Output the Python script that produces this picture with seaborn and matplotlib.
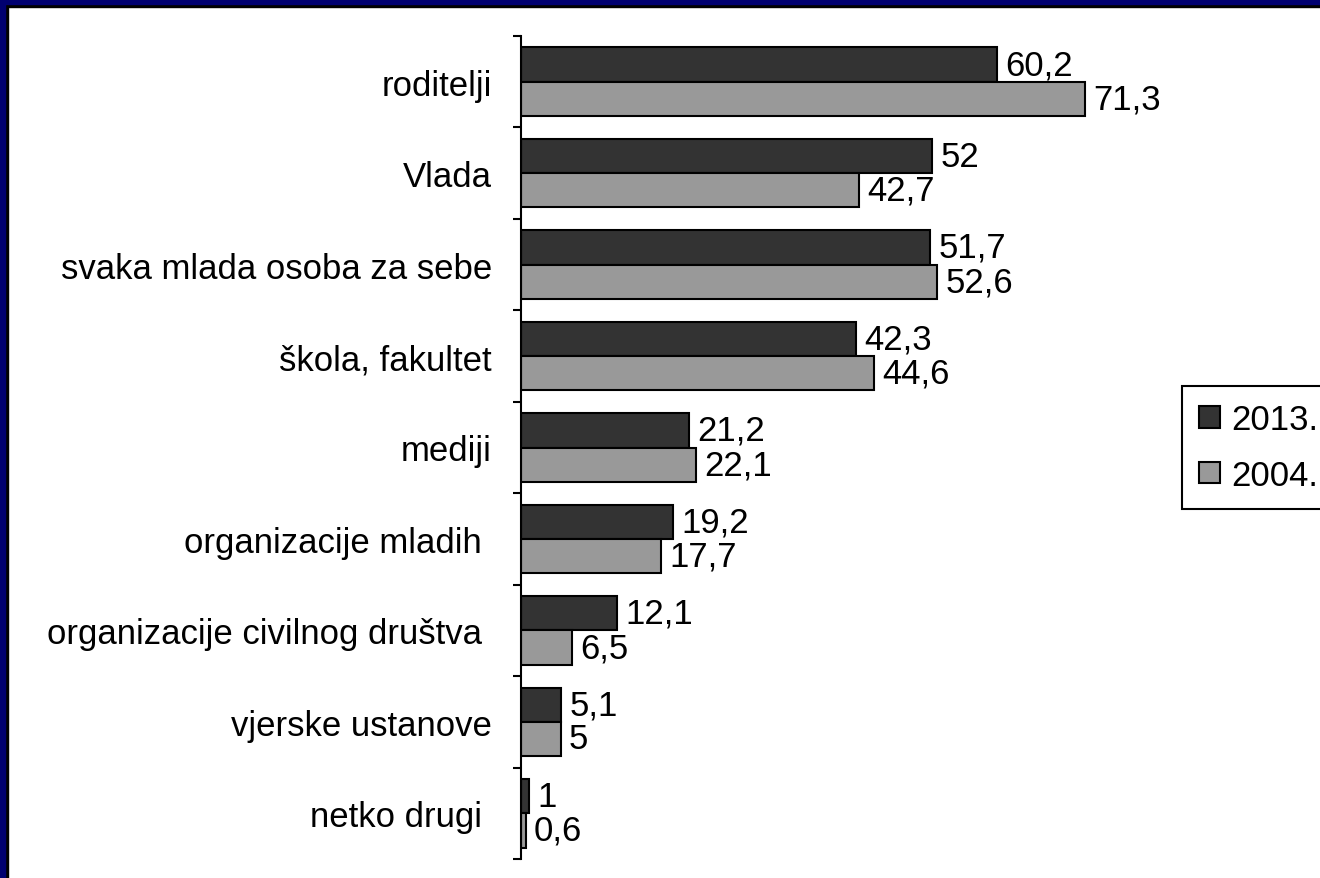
import pandas as pd
import matplotlib.pyplot as plt
import seaborn as sns
from matplotlib.patches import Rectangle

# Data
categories = ['roditelji', 'Vlada', 'svaka mlada osoba za sebe', 'škola, fakultet',
              'mediji', 'organizacije mladih ', 'organizacije civilnog društva ',
              'vjerske ustanove', 'netko drugi ']
values_2013 = [60.2, 52, 51.7, 42.3, 21.2, 19.2, 12.1, 5.1, 1]
values_2004 = [71.3, 42.7, 52.6, 44.6, 22.1, 17.7, 6.5, 5, 0.6]
years = ['2013.', '2004.']

df = pd.DataFrame({
    'kategorija': categories * 2,
    'postotak': values_2013 + values_2004,
    'godina': [years[0]] * len(categories) + [years[1]] * len(categories),
})

sns.set_style('white')
plt.rcParams['font.family'] = ['Liberation Sans', 'DejaVu Sans']
plt.rcParams['text.color'] = 'black'
plt.rcParams['ytick.color'] = 'black'
plt.rcParams['axes.labelcolor'] = 'black'

FS = 25
W, H = 1320, 879
fig = plt.figure(figsize=(W / 100, H / 100), dpi=100)
ax = fig.add_axes([521 / W, 1 - 860 / H, (1140 - 521) / W, (860 - 37) / H])

sns.barplot(data=df, y='kategorija', x='postotak', hue='godina', orient='h',
            palette=['#333333', '#999999'], edgecolor='black', linewidth=1.5,
            width=0.75, ax=ax)

# value labels with decimal comma
for cont in ax.containers:
    labels = [f"{b.get_width():g}".replace('.', ',') for b in cont]
    ax.bar_label(cont, labels=labels, padding=6, fontsize=FS, color='black')

ax.set_xlim(0, (1140 - 521) / 7.91)
ax.set_ylim(len(categories) - 0.5, -0.5)
ax.set_xlabel('')
ax.set_ylabel('')
ax.set_xticks([])

# tick marks on category boundaries, labels in the middle
ax.set_yticks([i - 0.5 for i in range(len(categories) + 1)])
ax.set_yticklabels([])
ax.set_yticks(range(len(categories)), minor=True)
ax.set_yticklabels(categories, minor=True, fontsize=FS, color='black')
ax.tick_params(axis='y', which='major', left=True, direction='out', length=6, width=1.5, color='black')
ax.tick_params(axis='y', which='minor', left=True, length=0, pad=21)

for side in ['top', 'right', 'bottom']:
    ax.spines[side].set_visible(False)
ax.spines['left'].set_color('black')
ax.spines['left'].set_linewidth(1.5)

handles, lbls = ax.get_legend_handles_labels()
leg = ax.legend(handles, lbls, loc='upper left', bbox_to_anchor=(1182 / W, 1 - 387 / H),
                bbox_transform=fig.transFigure, fontsize=FS, frameon=True, fancybox=False,
                edgecolor='black', framealpha=1, handlelength=0.58, handleheight=0.58,
                handletextpad=0.35, labelspacing=0.65, borderpad=0.5, borderaxespad=0)
leg.get_frame().set_linewidth(1.5)
for t in leg.get_texts():
    t.set_color('black')

# frame on top and left edges
fig.add_artist(Rectangle((0, 0), 8 / W, 1, transform=fig.transFigure, color='black', zorder=10))
fig.add_artist(Rectangle((0, 1 - 8 / H), 1, 8 / H, transform=fig.transFigure, color='black', zorder=10))
fig.add_artist(Rectangle((0, 0), 5 / W, 1, transform=fig.transFigure, color='#000070', zorder=11))
fig.add_artist(Rectangle((0, 1 - 5 / H), 1, 5 / H, transform=fig.transFigure, color='#000070', zorder=11))

fig.savefig('out.png', dpi=100)
